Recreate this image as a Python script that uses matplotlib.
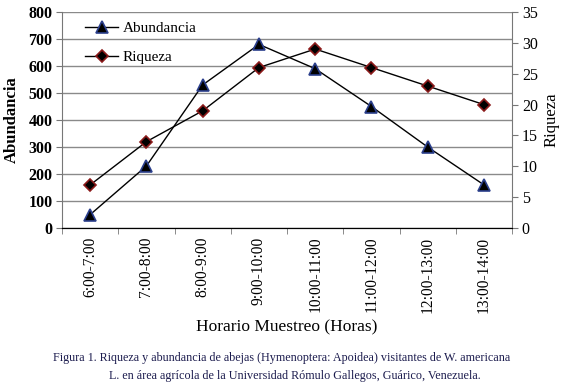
import matplotlib
matplotlib.use("Agg")
import matplotlib.pyplot as plt
import numpy as np

plt.rcParams['font.family'] = ['Liberation Serif', 'DejaVu Serif']

# Data
horarios = ["6:00-7:00", "7:00-8:00", "8:00-9:00", "9:00-10:00",
            "10:00-11:00", "11:00-12:00", "12:00-13:00", "13:00-14:00"]
abundancia = [50, 230, 530, 680, 590, 450, 300, 160]
riqueza = [7, 14, 19, 26, 29, 26, 23, 20]

fig = plt.figure(figsize=(5.64, 3.86), dpi=100)
ax = fig.add_axes([0.110, 0.409, 0.798, 0.560])
ax2 = ax.twinx()

x = np.arange(len(horarios))

l1, = ax.plot(x, abundancia, color='black', lw=1.0, marker='^', markersize=8.5,
              markerfacecolor='black', markeredgecolor='#2b3f8c', markeredgewidth=1.2,
              zorder=3)
l2, = ax2.plot(x, riqueza, color='black', lw=1.0, marker='D', markersize=6.5,
               markerfacecolor='black', markeredgecolor='#8b1a1a', markeredgewidth=1.2,
               zorder=3)

ax.set_xlim(-0.5, len(horarios) - 0.5)
ax.set_ylim(0, 800)
ax.set_yticks(range(0, 801, 100))
ax2.set_ylim(0, 35)
ax2.set_yticks(range(0, 36, 5))

ax.yaxis.grid(True, color='#8a8a8a', lw=1.0)
ax.set_axisbelow(True)

ax.set_xticks(x)
ax.set_xticklabels(horarios, rotation=90, fontsize=11.2)
ax.set_xticks(np.arange(-0.5, len(horarios)), minor=True)
ax.tick_params(axis='x', which='major', length=0, pad=6)
ax.tick_params(axis='x', which='minor', length=4, color='#777777')

for a in (ax, ax2):
    a.spines['top'].set_visible(False)
ax.spines['left'].set_color('#777777')
ax.spines['right'].set_visible(False)
ax2.spines['left'].set_visible(False)
ax2.spines['right'].set_color('#777777')
ax.spines['bottom'].set_color('black')

ax.tick_params(axis='y', length=4, color='#777777', labelsize=11.5, pad=3)
for lbl in ax.get_yticklabels():
    lbl.set_fontweight('bold')
ax2.tick_params(axis='y', length=4, color='#777777', labelsize=11.5, pad=3)

ax.set_ylabel("Abundancia", fontsize=12, fontweight='bold', labelpad=6)
ax2.set_ylabel("Riqueza", fontsize=12, family=['Liberation Serif', 'DejaVu Serif'],
               labelpad=4)
ax.set_xlabel("Horario Muestreo (Horas)", fontsize=12.5, labelpad=5)

ax.legend([l1, l2], ["Abundancia", "Riqueza"], loc='upper left',
          bbox_to_anchor=(0.02, 1.02), frameon=False, fontsize=11,
          handlelength=2.2, labelspacing=1.0, handletextpad=0.3)

caption_color = '#1c1c4e'
fig.text(0.5, 0.072, "Figura 1. Riqueza y abundancia de abejas (Hymenoptera: Apoidea) visitantes de W. americana",
         ha='center', va='center', fontsize=8.7, color=caption_color)
fig.text(0.523, 0.026, "L. en área agrícola de la Universidad Rómulo Gallegos, Guárico, Venezuela.",
         ha='center', va='center', fontsize=8.7, color=caption_color)

fig.savefig("out.png", dpi=100)
